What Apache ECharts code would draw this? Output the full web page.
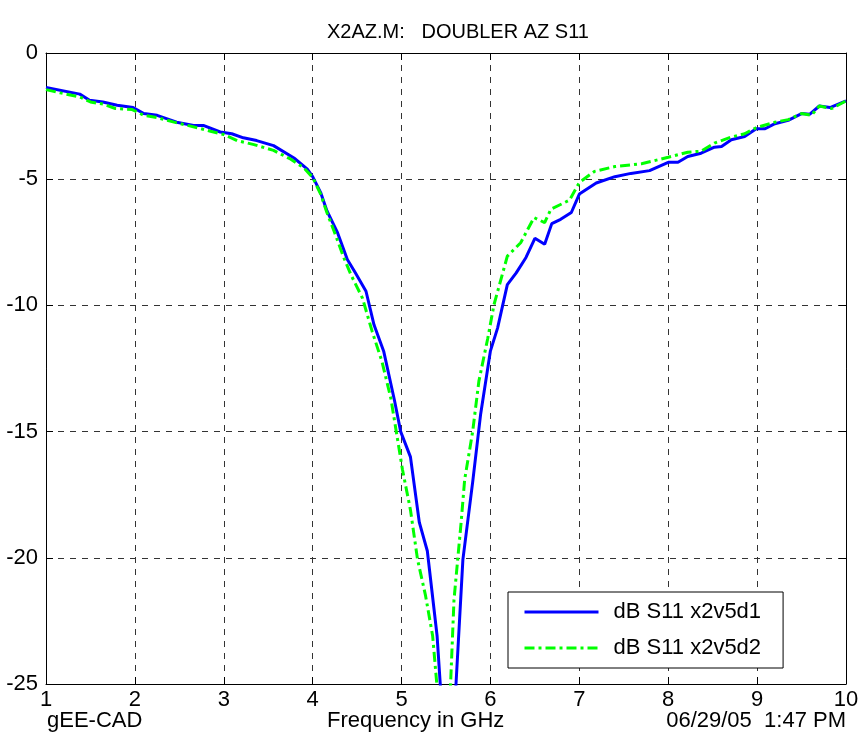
<!DOCTYPE html>
<html>
<head>
<meta charset="utf-8">
<script src="https://cdn.jsdelivr.net/npm/echarts@6/dist/echarts.min.js"></script>
<style>
  html, body { margin: 0; padding: 0; background: #fff; }
  #chart { width: 862px; height: 747px; }
</style>
</head>
<body>
<div id="chart"></div>
<script>
// S11 of two doubler variants (GHz / dB)
const freqD1 = [1.0, 1.38, 1.49, 1.64, 1.8, 1.98, 2.1, 2.25, 2.47, 2.66, 2.77, 2.96, 3.09, 3.22, 3.37, 3.56, 3.79, 3.94, 4.0,
  4.09, 4.16, 4.28, 4.39, 4.48, 4.6, 4.69, 4.8, 4.92, 4.99, 5.1, 5.2, 5.29, 5.4, 5.5, 5.6, 5.69, 5.8, 5.89,
  6.0, 6.08, 6.19, 6.29, 6.4, 6.5, 6.61, 6.69, 6.79, 6.91, 7.0, 7.19, 7.4, 7.58, 7.79, 8.0, 8.11, 8.22,
  8.37, 8.52, 8.6, 8.71, 8.86, 8.99, 9.09, 9.2, 9.35, 9.5, 9.59, 9.7, 9.82, 10.0];
const dbD1 = [-1.37, -1.63, -1.87, -1.94, -2.07, -2.16, -2.4, -2.47, -2.74, -2.87, -2.87, -3.13, -3.2, -3.36, -3.47, -3.67, -4.16, -4.6, -4.9,
  -5.53, -6.25, -7.12, -8.18, -8.71, -9.44, -10.77, -11.83, -13.76, -15.0, -16.0, -18.6, -19.73, -23.1, -28.5, -25.8, -20.07, -17.0, -14.3,
  -11.8, -10.9, -9.18, -8.71, -8.1, -7.34, -7.58, -6.76, -6.59, -6.32, -5.59, -5.15, -4.9, -4.77, -4.66, -4.33, -4.33, -4.1,
  -3.97, -3.73, -3.7, -3.44, -3.31, -3.0, -3.0, -2.8, -2.67, -2.4, -2.43, -2.1, -2.16, -1.9];

const freqD2 = [1.0, 1.16, 1.38, 1.5, 1.65, 1.78, 1.97, 2.1, 2.25, 2.44, 2.7, 2.85, 3.0, 3.15, 3.34, 3.56, 3.75, 3.9, 4.0,
  4.09, 4.16, 4.24, 4.35, 4.43, 4.56, 4.67, 4.78, 4.88, 5.01, 5.1, 5.18, 5.27, 5.35, 5.47, 5.54, 5.59, 5.67, 5.71,
  5.8, 5.87, 5.97, 6.04, 6.19, 6.34, 6.49, 6.61, 6.68, 6.89, 7.0, 7.17, 7.4, 7.7, 8.0, 8.22, 8.37, 8.52,
  8.71, 8.86, 8.99, 9.2, 9.35, 9.5, 9.61, 9.7, 9.84, 10.0];
const dbD2 = [-1.45, -1.58, -1.74, -1.94, -2.03, -2.2, -2.24, -2.47, -2.56, -2.74, -2.96, -3.1, -3.23, -3.47, -3.63, -3.86, -4.2, -4.55, -4.93,
  -5.59, -6.32, -7.05, -8.11, -8.78, -9.71, -11.04, -12.23, -13.69, -16.5, -18.1, -20.07, -21.5, -23.1, -28.0, -26.0, -21.66, -18.6, -16.9,
  -15.0, -13.0, -11.3, -9.97, -8.05, -7.52, -6.52, -6.72, -6.19, -5.83, -5.13, -4.69, -4.5, -4.39, -4.13, -3.93, -3.89, -3.57,
  -3.33, -3.2, -2.96, -2.74, -2.64, -2.4, -2.47, -2.1, -2.2, -1.9];

const seriesNames = ["dB S11 x2v5d1", "dB S11 x2v5d2"];
const xRange = [1, 10];
const yRange = [-25, 0];

function pairs(xs, ys) {
  return xs.map(function (x, i) { return [x, ys[i]]; });
}

const FONT = "Liberation Sans";
const gridLine = { show: true, lineStyle: { color: "#333", type: [6, 6], width: 1 } };
const boxLine = { show: true, onZero: false, lineStyle: { color: "#000", width: 1 } };
const tick = { show: true, inside: true, length: 7, lineStyle: { color: "#000" } };

let myChart = echarts.init(document.getElementById("chart"));
let option = {
  animation: false,
  backgroundColor: "#fff",
  title: {
    text: "X2AZ.M:   DOUBLER AZ S11",
    left: 322,
    top: 17,
    textStyle: { fontFamily: FONT, fontSize: 20, fontWeight: "normal", color: "#000" }
  },
  grid: { left: 46, right: 16, top: 53, bottom: 63, containLabel: false },
  legend: {
    orient: "vertical",
    left: 508,
    top: 592,
    padding: [9, 22, 9, 15],
    itemWidth: 74,
    itemHeight: 14,
    itemGap: 14,
    borderColor: "#000",
    borderWidth: 1,
    backgroundColor: "#fff",
    itemStyle: { opacity: 0 },
    lineStyle: { width: 3 },
    textStyle: { fontFamily: FONT, fontSize: 22, color: "#000", padding: [0, 0, 0, 10] },
    data: seriesNames
  },
  xAxis: [
    {
      type: "value",
      min: xRange[0],
      max: xRange[1],
      interval: 1,
      axisLine: boxLine,
      axisTick: tick,
      axisLabel: { fontFamily: FONT, fontSize: 22, color: "#000", margin: 5 },
      splitLine: gridLine
    },
    {
      type: "value",
      position: "top",
      min: xRange[0],
      max: xRange[1],
      interval: 1,
      axisLine: boxLine,
      axisTick: tick,
      axisLabel: { show: false },
      splitLine: { show: false }
    }
  ],
  yAxis: [
    {
      type: "value",
      min: yRange[0],
      max: yRange[1],
      interval: 5,
      axisLine: boxLine,
      axisTick: tick,
      axisLabel: { fontFamily: FONT, fontSize: 22, color: "#000", margin: 8 },
      splitLine: gridLine
    },
    {
      type: "value",
      position: "right",
      min: yRange[0],
      max: yRange[1],
      interval: 5,
      axisLine: boxLine,
      axisTick: tick,
      axisLabel: { show: false },
      splitLine: { show: false }
    }
  ],
  graphic: [
    { type: "text", left: 47, top: 710, style: { text: "gEE-CAD", font: "22px " + FONT, fill: "#000" } },
    { type: "text", left: 327, top: 710, style: { text: "Frequency in GHz", font: "22px " + FONT, fill: "#000" } },
    { type: "text", right: 16, top: 710, style: { text: "06/29/05  1:47 PM", font: "22px " + FONT, fill: "#000" } }
  ],
  series: [
    {
      name: seriesNames[0],
      type: "line",
      symbol: "none",
      clip: true,
      color: "#0000ff",
      lineStyle: { color: "#0000ff", width: 3 },
      data: pairs(freqD1, dbD1)
    },
    {
      name: seriesNames[1],
      type: "line",
      symbol: "none",
      clip: true,
      color: "#00ff00",
      lineStyle: { color: "#00ff00", width: 3, type: [10, 4, 3, 4] },
      data: pairs(freqD2, dbD2)
    }
  ]
};
myChart.setOption(option);
</script>
</body>
</html>
